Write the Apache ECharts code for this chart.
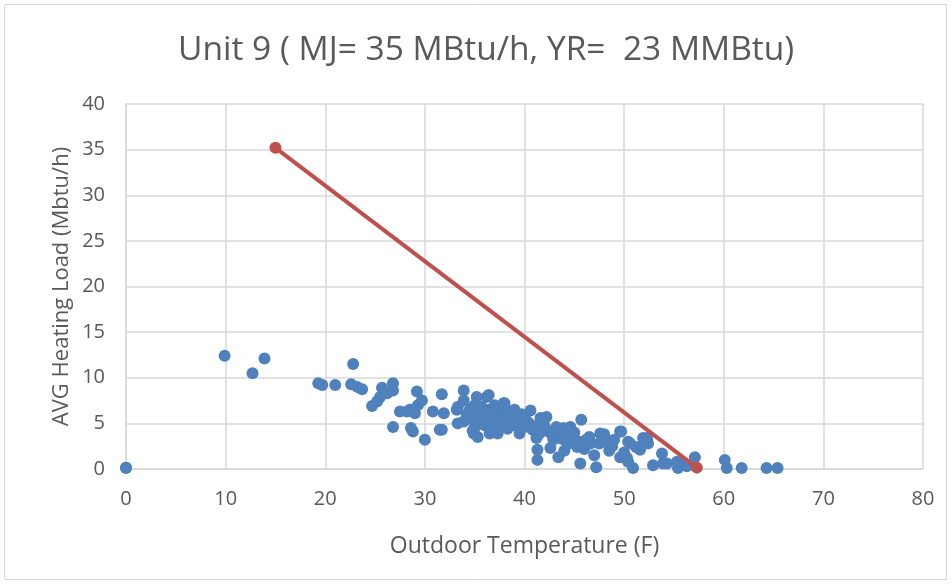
<!DOCTYPE html>
<html>
<head>
<meta charset="utf-8">
<script src="https://cdn.jsdelivr.net/npm/echarts@6/dist/echarts.min.js"></script>
<style>html,body{margin:0;padding:0;background:#fff}#c{width:951px;height:586px}</style>
</head>
<body>
<div id="c"></div>
<script>
const titleText = 'Unit 9 ( MJ= 35 MBtu/h, YR=  23 MMBtu)';
const xAxisName = 'Outdoor Temperature (F)';
const yAxisName = 'AVG Heating Load (Mbtu/h)';

const obsTemp = [
  0, 0, 9.9, 12.7, 13.9, 19.3, 19.7, 21.0, 22.8, 22.6, 23.2, 23.7,
  24.7, 25.2, 25.5, 25.7, 26.2, 26.8, 26.8, 26.8, 27.5, 28.2, 28.5, 28.6, 28.8, 29.0,
  29.2, 29.3, 29.7, 30.0, 30.8, 31.7, 31.9, 31.5, 31.7,
  33.2, 33.3, 33.3, 33.9, 33.9, 33.9, 34.5, 34.9, 35.2, 35.3, 35.7, 36.2, 36.4, 36.5, 36.5,
  37.3, 37.9, 38.0, 38.2, 39.2, 39.5, 40.6, 41.2, 41.3, 41.3, 41.5, 41.6, 42.2, 42.6, 42.9,
  43.4, 43.6, 43.9, 44.6, 45.6, 45.7,
  34.5, 35.0, 35.5, 36.0, 36.5, 37.0, 37.5, 38.0, 38.5, 39.0, 39.5, 40.0, 40.5, 41.0,
  37.0, 36.0, 35.0, 38.0, 34.8, 36.8, 39.0, 40.0, 42.0, 43.0, 44.0, 44.5, 45.0, 45.5,
  46.0, 46.5, 47.0, 47.5, 48.0, 48.5, 49.0, 44.0,
  46.6, 47.2, 47.6, 48.4, 49.6, 49.7, 50.4, 50.6, 51.6, 51.9, 52.3, 52.4,
  49.6, 50.3, 50.4, 50.9, 52.9, 53.8, 53.9, 54.3, 55.3, 55.4, 55.6, 56.3, 57.1,
  60.1, 60.3, 61.8, 64.3, 65.4,
  34.2, 35.6, 36.3, 37.2, 37.8, 38.6, 39.3, 40.2, 40.8, 41.8, 42.4, 43.2, 43.8, 44.8,
  35.4, 36.9, 38.3, 39.7, 41.4, 42.8, 44.2, 45.3, 46.2, 47.8, 48.8, 51.2, 52.0, 50.0
];
const obsLoad = [
  0.1, 0.15, 12.4, 10.5, 12.1, 9.4, 9.2, 9.2, 11.5, 9.3, 9.0, 8.75,
  6.9, 7.4, 7.9, 8.9, 8.3, 9.4, 8.6, 4.6, 6.3, 6.3, 6.5, 4.5, 4.1, 6.1,
  8.5, 7.0, 7.5, 3.2, 6.3, 8.2, 6.1, 4.3, 4.3,
  6.5, 6.8, 5.0, 8.6, 7.5, 5.2, 6.5, 3.9, 7.9, 3.5, 6.8, 7.9, 8.1, 6.5, 3.9,
  3.9, 7.2, 7.2, 5.4, 5.7, 3.9, 6.4, 3.4, 2.1, 1.0, 3.9, 5.6, 5.7, 2.3, 3.2,
  1.3, 3.9, 4.5, 4.6, 0.6, 5.4,
  5.5, 4.5, 5.8, 4.8, 5.2, 6.0, 4.5, 5.5, 6.2, 4.8, 5.2, 4.6, 5.0, 4.4,
  7.0, 6.5, 7.0, 6.8, 4.2, 4.1, 6.5, 5.8, 4.7, 4.2, 3.5, 2.8, 4.0, 3.0,
  2.2, 3.5, 1.5, 2.8, 3.8, 2.0, 3.2, 2.0,
  2.8, 0.2, 3.9, 2.8, 4.1, 4.1, 3.0, 2.8, 2.1, 3.4, 3.4, 2.8,
  1.3, 1.2, 0.8, 0.1, 0.4, 1.7, 0.6, 0.6, 0.8, 0.1, 0.6, 0.3, 1.3,
  1.0, 0.1, 0.1, 0.1, 0.1,
  6.0, 6.2, 5.6, 5.3, 6.4, 5.0, 5.9, 5.3, 4.3, 4.9, 4.1, 4.6, 3.3, 3.8,
  5.0, 5.6, 4.4, 6.0, 4.8, 3.7, 3.0, 2.4, 3.2, 3.1, 2.5, 2.4, 3.0, 1.8
];
const designTemp = [15, 57.3];
const designLoad = [35.2, 0.15];

const xTicks = {min: 0, max: 80, interval: 10};
const yTicks = {min: 0, max: 40, interval: 5};

const chart = echarts.init(document.getElementById('c'));
const font = '"Open Sans", "Noto Sans", sans-serif';
const gridColor = '#d9d9d9';
const textColor = '#595959';

chart.setOption({
  animation: false,
  backgroundColor: '#fff',
  graphic: [{
    type: 'rect', silent: true,
    shape: {x: 4.5, y: 4.5, width: 942, height: 575},
    style: {fill: 'none', stroke: '#d9d9d9', lineWidth: 1}
  }],
  title: {
    text: titleText, left: 173, top: 28,
    textStyle: {fontFamily: font, fontSize: 33.5, fontWeight: 'normal', color: textColor}
  },
  grid: {left: 126, right: 28, top: 104, bottom: 117},
  xAxis: {
    type: 'value', min: xTicks.min, max: xTicks.max, interval: xTicks.interval,
    name: xAxisName, nameLocation: 'middle', nameGap: 66, nameMoveOverlap: false,
    nameTextStyle: {fontFamily: font, fontSize: 23, color: textColor},
    axisLine: {show: true, lineStyle: {color: gridColor, width: 1.5}},
    axisTick: {show: false},
    axisLabel: {fontFamily: font, fontSize: 20, color: textColor, margin: 20},
    splitLine: {show: true, lineStyle: {color: gridColor, width: 1.5}}
  },
  yAxis: {
    type: 'value', min: yTicks.min, max: yTicks.max, interval: yTicks.interval,
    name: yAxisName, nameLocation: 'middle', nameGap: 53, nameMoveOverlap: false,
    nameTextStyle: {fontFamily: font, fontSize: 22, color: textColor},
    axisLine: {show: true, lineStyle: {color: gridColor, width: 1.5}},
    axisTick: {show: false},
    axisLabel: {fontFamily: font, fontSize: 20, color: textColor, margin: 21},
    splitLine: {show: true, lineStyle: {color: gridColor, width: 1.5}}
  },
  series: [
    {
      type: 'scatter', symbol: 'circle', symbolSize: 12,
      itemStyle: {color: '#4f81bd', opacity: 1},
      data: obsTemp.map((t, i) => [t, obsLoad[i]]),
      z: 2
    },
    {
      type: 'line', symbol: 'circle', symbolSize: 12, showSymbol: true,
      lineStyle: {color: '#c0504d', width: 4},
      itemStyle: {color: '#c0504d'},
      data: designTemp.map((t, i) => [t, designLoad[i]]),
      z: 3
    }
  ]
});
</script>
</body>
</html>
